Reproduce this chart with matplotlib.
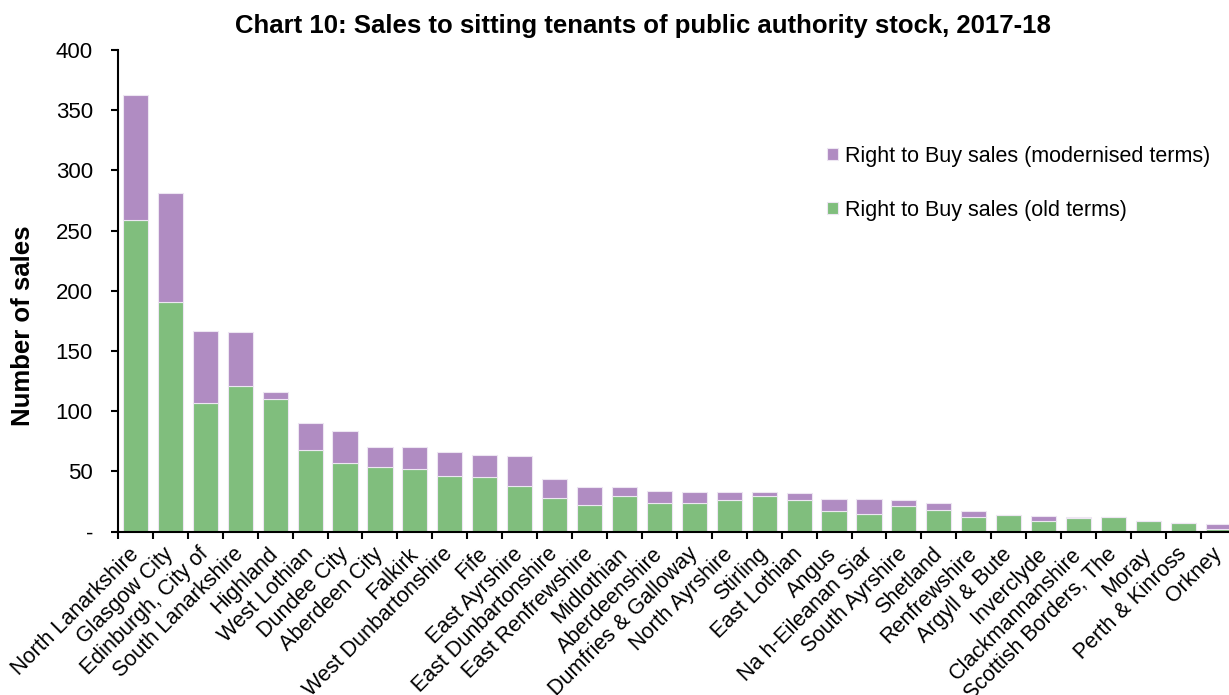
import numpy as np
import matplotlib.pyplot as plt
from matplotlib.ticker import FuncFormatter, FixedLocator

plt.rcParams['font.family'] = ['Liberation Sans', 'DejaVu Sans']

# Data
areas = ['North Lanarkshire', 'Glasgow City', 'Edinburgh, City of', 'South Lanarkshire',
         'Highland', 'West Lothian', 'Dundee City', 'Aberdeen City', 'Falkirk',
         'West Dunbartonshire', 'Fife', 'East Ayrshire', 'East Dunbartonshire',
         'East Renfrewshire', 'Midlothian', 'Aberdeenshire', 'Dumfries & Galloway',
         'North Ayrshire', 'Stirling', 'East Lothian', 'Angus', 'Na h-Eileanan Siar',
         'South Ayrshire', 'Shetland', 'Renfrewshire', 'Argyll & Bute', 'Inverclyde',
         'Clackmannanshire', 'Scottish Borders, The', 'Moray', 'Perth & Kinross', 'Orkney']
old_terms = [259, 191, 107, 121, 110, 68, 57, 54, 52, 46, 45, 38, 28, 22, 30, 24,
             24, 26, 30, 26, 17, 15, 21, 18, 12, 14, 9, 11, 12, 9, 7, 2]
totals = [363, 281, 167, 166, 116, 90, 84, 70, 70, 66, 64, 63, 44, 37, 37, 34,
          33, 33, 33, 32, 27, 27, 26, 24, 17, 14, 13, 12, 12, 9, 7, 6]
modern_terms = [t - o for t, o in zip(totals, old_terms)]

green = '#80BE7D'
purple = '#B08CC2'

fig = plt.figure(figsize=(12.29, 6.95), dpi=100)
ax = fig.add_axes([0.096, 0.235, 0.9095, 0.693])

x = np.arange(len(areas))
b1 = ax.bar(x, old_terms, width=0.72, color=green, edgecolor='#EDE6F2', linewidth=0.8,
            label='Right to Buy sales (old terms)')
b2 = ax.bar(x, modern_terms, width=0.72, bottom=old_terms, color=purple,
            edgecolor='#EDE6F2', linewidth=0.8, label='Right to Buy sales (modernised terms)')

ax.set_xlim(-0.5, len(areas) - 0.5)
ax.set_ylim(0, 400)
ax.set_yticks(np.arange(0, 401, 50))
ax.yaxis.set_major_formatter(FuncFormatter(lambda v, p: '-' if v == 0 else f'{int(v)}'))

ax.set_xticks(x)
ax.set_xticklabels(areas, rotation=45, ha='right', va='center', rotation_mode='anchor',
                   fontsize=15.5)
ax.xaxis.set_minor_locator(FixedLocator(np.arange(-0.5, len(areas), 1.0)))
ax.tick_params(axis='x', which='major', length=0, pad=14)
ax.tick_params(axis='x', which='minor', length=5, width=1.5, direction='out')
ax.tick_params(axis='y', length=5, width=1.5, direction='out', labelsize=16, pad=13)

for s in ['top', 'right']:
    ax.spines[s].set_visible(False)
for s in ['left', 'bottom']:
    ax.spines[s].set_linewidth(1.5)

ax.set_ylabel('Number of sales', fontsize=18.5, fontweight='bold')
ax.yaxis.set_label_coords(-0.074, 0.427)
ax.set_title('Chart 10: Sales to sitting tenants of public authority stock, 2017-18',
             fontsize=18.5, fontweight='bold', x=0.47, pad=12)

ax.legend(handles=[b2, b1], loc='upper left', bbox_to_anchor=(0.617, 0.842), frameon=False,
          fontsize=15.5, handlelength=0.5, handleheight=0.5, handletextpad=0.35,
          labelspacing=1.55)

fig.savefig('out.png', dpi=100)
